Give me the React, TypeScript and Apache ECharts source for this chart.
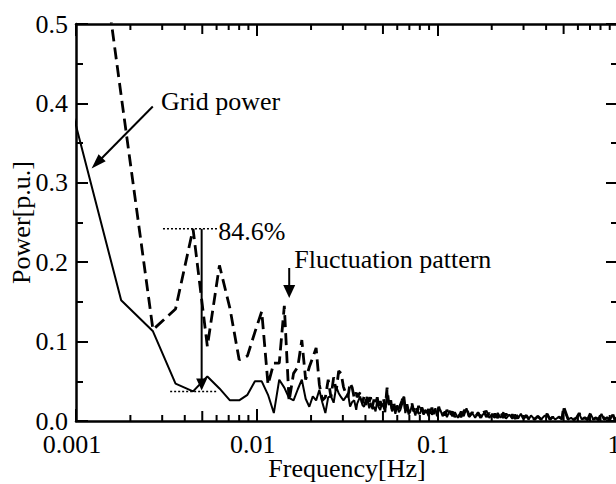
import React, { useEffect, useRef } from "react";
import * as echarts from "echarts";

// FFT bin spacing of the low-frequency part [Hz]
const DF = 0.000889;
const bins = [1, 2, 3, 4, 5, 6, 7, 8, 9, 10, 11, 12, 13, 14, 15, 16, 17, 18, 19, 20, 21, 22, 23, 24, 25, 26, 27, 28, 29, 30, 31, 32, 33, 34, 35, 36, 37, 38, 39, 40];
const gridPowerBins = [0.417, 0.152, 0.113, 0.047, 0.0373, 0.056, 0.041, 0.026, 0.026, 0.033, 0.05, 0.05, 0.033, 0.01, 0.052, 0.042, 0.029, 0.026, 0.04, 0.052, 0.028, 0.018, 0.031, 0.026, 0.039, 0.023, 0.01, 0.03, 0.031, 0.023, 0.043, 0.035, 0.03, 0.026, 0.03, 0.035, 0.018, 0.024, 0.026, 0.014];
const fluctuationBins = [0.92, 0.41, 0.115, 0.141, 0.242, 0.094, 0.196, 0.142, 0.077, 0.082, 0.112, 0.138, 0.046, 0.073, 0.073, 0.145, 0.025, 0.06, 0.068, 0.102, 0.052, 0.068, 0.08, 0.092, 0.046, 0.026, 0.03, 0.052, 0.03, 0.055, 0.038, 0.063, 0.06, 0.043, 0.035, 0.03, 0.048, 0.042, 0.029, 0.036];

// high-frequency tail [Hz]
const tailFreqs = [0.036, 0.0374, 0.0385, 0.0393, 0.0402, 0.0411, 0.042, 0.0427, 0.0437, 0.0446, 0.0455, 0.0465, 0.0474, 0.0483, 0.0493, 0.0503, 0.0515, 0.0527, 0.0538, 0.0549, 0.0561, 0.0573, 0.0586, 0.06, 0.0612, 0.0624, 0.0638, 0.0651, 0.0665, 0.0679, 0.0694, 0.0709, 0.0724, 0.074, 0.0756, 0.0772, 0.0788, 0.0805, 0.0822, 0.084, 0.0857, 0.0875, 0.0894, 0.0913, 0.0933, 0.0953, 0.0975, 0.0996, 0.1018, 0.1039,
  0.107, 0.11, 0.113, 0.117, 0.121, 0.125, 0.13, 0.135, 0.14, 0.145, 0.15, 0.156, 0.162, 0.168, 0.174, 0.18, 0.187, 0.194, 0.201, 0.208, 0.216, 0.224, 0.232, 0.24, 0.25, 0.26, 0.27, 0.28, 0.29, 0.3, 0.31, 0.32, 0.33, 0.345, 0.36, 0.375, 0.39, 0.405, 0.42, 0.435, 0.45, 0.47, 0.49, 0.5, 0.53, 0.55, 0.57, 0.59, 0.61, 0.63, 0.655, 0.68, 0.705, 0.73, 0.755, 0.78, 0.81, 0.84, 0.87, 0.9, 0.93, 0.96, 0.99, 1.0];
const gridPowerTail = [0.022, 0.031, 0.02, 0.018, 0.027, 0.026, 0.016, 0.023, 0.015, 0.018, 0.012, 0.026, 0.017, 0.014, 0.022, 0.018, 0.011, 0.039, 0.02, 0.026, 0.012, 0.018, 0.009, 0.02, 0.011, 0.014, 0.021, 0.031, 0.01, 0.018, 0.008, 0.012, 0.02, 0.014, 0.007, 0.016, 0.009, 0.01, 0.017, 0.008, 0.014, 0.012, 0.006, 0.015, 0.008, 0.01, 0.016, 0.006, 0.013, 0.014,
  0.006, 0.012, 0.005, 0.013, 0.006, 0.011, 0.004, 0.012, 0.006, 0.016, 0.005, 0.01, 0.004, 0.011, 0.005, 0.009, 0.013, 0.004, 0.009, 0.004, 0.01, 0.004, 0.011, 0.003, 0.008, 0.003, 0.008, 0.003, 0.009, 0.003, 0.007, 0.002, 0.007, 0.002, 0.006, 0.002, 0.006, 0.008, 0.002, 0.005, 0.002, 0.005, 0.002, 0.016, 0.002, 0.004, 0.001, 0.004, 0.009, 0.002, 0.004, 0.001, 0.009, 0.002, 0.004, 0.001, 0.009, 0.002, 0.004, 0.001, 0.008, 0.002, 0.003, 0.002];
const fluctuationTail = [0.03, 0.036, 0.022, 0.031, 0.02, 0.034, 0.024, 0.03, 0.018, 0.027, 0.02, 0.03, 0.016, 0.025, 0.019, 0.028, 0.017, 0.042, 0.022, 0.03, 0.015, 0.024, 0.013, 0.022, 0.016, 0.02, 0.026, 0.033, 0.014, 0.021, 0.011, 0.018, 0.022, 0.012, 0.018, 0.01, 0.019, 0.011, 0.017, 0.009, 0.016, 0.01, 0.015, 0.008, 0.017, 0.009, 0.014, 0.008, 0.018, 0.011,
  0.013, 0.007, 0.014, 0.006, 0.012, 0.005, 0.011, 0.005, 0.012, 0.017, 0.006, 0.011, 0.005, 0.01, 0.004, 0.014, 0.005, 0.01, 0.004, 0.009, 0.004, 0.012, 0.004, 0.009, 0.003, 0.008, 0.003, 0.007, 0.01, 0.003, 0.007, 0.003, 0.006, 0.002, 0.006, 0.002, 0.005, 0.009, 0.002, 0.005, 0.002, 0.005, 0.003, 0.018, 0.002, 0.005, 0.002, 0.004, 0.01, 0.002, 0.004, 0.002, 0.01, 0.002, 0.004, 0.002, 0.01, 0.002, 0.004, 0.002, 0.01, 0.002, 0.004, 0.002];

const xMinorTicks = [0.002, 0.003, 0.004, 0.005, 0.006, 0.007, 0.008, 0.009, 0.02, 0.03, 0.04, 0.05, 0.06, 0.07, 0.08, 0.09, 0.2, 0.3, 0.4, 0.5, 0.6, 0.7, 0.8, 0.9];

// annotation anchors (data coordinates)
const ratioLabel = "84.6%";
const ratioHigh = 0.242;
const ratioLow = 0.0373;
const ratioFreq = 0.00496;

const FONT = "'Liberation Serif', serif";
const FS = 26;
const BLACK = "#000";

export default function App() {
  const ref = useRef<HTMLDivElement>(null);
  useEffect(() => {
    document.body.style.margin = "0";
    const chart = echarts.init(ref.current!, null, { renderer: "svg" });
    const gridData = [
      ...bins.map((n, i) => [n * DF, gridPowerBins[i]]),
      ...tailFreqs.map((f, i) => [f, gridPowerTail[i]]),
    ];
    const flucData = [
      ...bins.map((n, i) => [n * DF, fluctuationBins[i]]),
      ...tailFreqs.map((f, i) => [f, fluctuationTail[i]]),
    ];
    const axisLine = { show: true, onZero: false, lineStyle: { color: BLACK, width: 2.5 } };
    const tick = { show: true, inside: true, length: 12, lineStyle: { color: BLACK, width: 2 } };
    const labelStyle = { fontFamily: FONT, fontSize: FS, color: BLACK };
    const xBase = {
      type: "log",
      logBase: 10,
      min: 0.001,
      max: 1,
      axisLine,
      axisTick: tick,
      splitLine: { show: false },
      minorTick: { show: false },
      minorSplitLine: { show: false },
    };
    const yBase = {
      type: "value",
      min: 0,
      max: 0.5,
      interval: 0.1,
      axisLine,
      axisTick: tick,
      minorTick: { show: true, splitNumber: 2, length: 7, lineStyle: { color: BLACK, width: 2 } },
      splitLine: { show: false },
    };
    chart.setOption({
      animation: false,
      backgroundColor: "#fff",
      textStyle: { fontFamily: FONT },
      grid: { left: 76, top: 24, right: 2, bottom: 63, containLabel: false, outerBoundsMode: "none" },
      xAxis: [
        {
          ...xBase,
          position: "bottom",
          axisLabel: {
            ...labelStyle,
            margin: 10,
            padding: [0, 8, 0, 0],
            formatter: (v: number) => String(Number(v.toPrecision(3))),
          },
          name: "Frequency[Hz]",
          nameLocation: "middle",
          nameGap: 34,
          nameMoveOverlap: false,
          nameTextStyle: labelStyle,
        },
        { ...xBase, position: "top", axisLabel: { show: false } },
      ],
      yAxis: [
        {
          ...yBase,
          position: "left",
          axisLabel: { ...labelStyle, margin: 8, formatter: (v: number) => v.toFixed(1) },
          name: "Power[p.u.]",
          nameLocation: "middle",
          nameRotate: 90,
          nameGap: 42,
          nameMoveOverlap: false,
          nameTextStyle: labelStyle,
        },
        { ...yBase, position: "right", axisLabel: { show: false } },
      ],
      series: [
        {
          type: "line",
          name: "Fluctuation pattern",
          data: flucData,
          symbol: "none",
          clip: true,
          silent: true,
          z: 2,
          lineStyle: { color: BLACK, width: 2.8, type: [12, 6] },
        },
        {
          type: "line",
          name: "Grid power",
          data: gridData,
          symbol: "none",
          clip: true,
          silent: true,
          z: 3,
          lineStyle: { color: BLACK, width: 2 },
        },
        {
          type: "custom",
          silent: true,
          clip: false,
          z: 4,
          data: xMinorTicks.map((v) => [v, 0]),
          renderItem: (_p: any, api: any) => {
            const v = api.value(0);
            const b = api.coord([v, 0]);
            const t = api.coord([v, 0.5]);
            const mant = v / Math.pow(10, Math.floor(Math.log10(v) + 1e-9));
            const len = Math.abs(mant - 5) < 0.01 ? 10 : 6;
            const st = { stroke: BLACK, lineWidth: 2 };
            return {
              type: "group",
              children: [
                { type: "line", shape: { x1: b[0], y1: b[1], x2: b[0], y2: b[1] - len }, style: st },
                { type: "line", shape: { x1: t[0], y1: t[1], x2: t[0], y2: t[1] + len }, style: st },
              ],
            };
          },
        },
      ],
    });

    const px = (f: number, v: number) =>
      chart.convertToPixel({ xAxisIndex: 0, yAxisIndex: 0 }, [f, v]) as number[];
    const arrow = (from: number[], to: number[], hl: number, hw: number) => {
      const dx = to[0] - from[0];
      const dy = to[1] - from[1];
      const L = Math.hypot(dx, dy);
      const ux = dx / L;
      const uy = dy / L;
      const bx = to[0] - ux * hl;
      const by = to[1] - uy * hl;
      return [
        {
          type: "line",
          shape: { x1: from[0], y1: from[1], x2: bx + ux * 2, y2: by + uy * 2 },
          style: { stroke: BLACK, lineWidth: 2 },
        },
        {
          type: "polygon",
          shape: { points: [to, [bx - uy * hw, by + ux * hw], [bx + uy * hw, by - ux * hw]] },
          style: { fill: BLACK },
        },
      ];
    };
    const text = (p: number[], s: string) => ({
      type: "text",
      x: p[0],
      y: p[1],
      style: { text: s, fontFamily: FONT, fontSize: FS, fill: BLACK, align: "left", verticalAlign: "middle" },
    });
    const dotted = (a: number[], b: number[]) => ({
      type: "line",
      shape: { x1: a[0], y1: a[1], x2: b[0], y2: b[1] },
      style: { stroke: BLACK, lineWidth: 1.5, lineDash: [2, 2] },
    });

    chart.setOption({
      graphic: [
        ...arrow(px(0.00266, 0.396), px(0.00122, 0.318), 15, 5),
        text(px(0.002958, 0.4024), "Grid power"),
        dotted(px(0.00303, ratioHigh), px(0.00604, ratioHigh)),
        dotted(px(0.00332, ratioLow), px(0.00604, ratioLow)),
        ...arrow(px(ratioFreq, ratioHigh), px(ratioFreq, ratioLow + 0.0012), 12, 5.5),
        text(px(0.006119, 0.2387), ratioLabel),
        ...arrow(px(0.01514, 0.1927), px(0.01514, 0.1549), 13, 6),
        text(px(0.01614, 0.2034), "Fluctuation pattern"),
      ],
    });
    return () => chart.dispose();
  }, []);
  return (
    <div style={{ position: "fixed", left: 0, top: 0, width: 616, height: 484, overflow: "hidden", background: "#fff" }}>
      <div ref={ref} style={{ width: 620, height: 484 }} />
    </div>
  );
}
